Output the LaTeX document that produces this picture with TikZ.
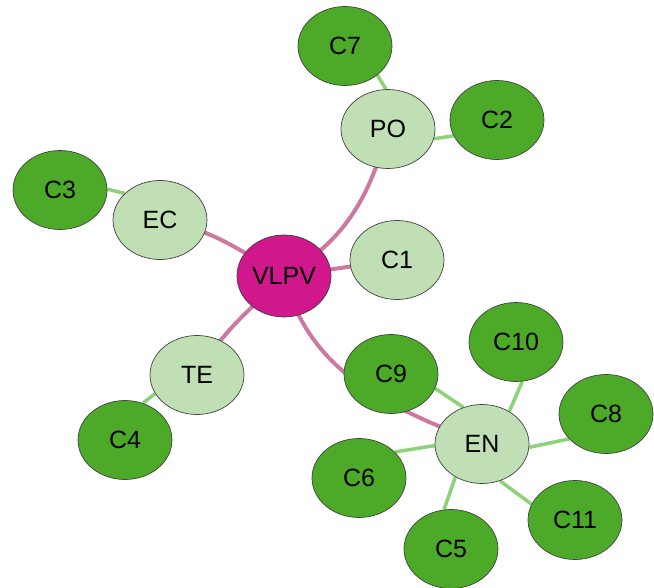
\documentclass[tikz,border=0pt]{standalone}
\usepackage{fontspec}
\setmainfont{Liberation Sans}
\usetikzlibrary{shapes.geometric,backgrounds}
\definecolor{dkgreen}{HTML}{4CAA28}
\definecolor{ltgreen}{HTML}{C0DFB4}
\definecolor{magen}{HTML}{D0188C}
\definecolor{pinkedge}{HTML}{CD78A0}
\definecolor{greenedge}{HTML}{8CD278}
\tikzset{
  base/.style={ellipse, draw=black!75, line width=0.7pt, inner sep=0pt,
    minimum width=94pt, minimum height=79pt,
    font=\fontsize{25}{30}\selectfont},
  leaf/.style={base, fill=dkgreen},
  mid/.style={base, fill=ltgreen},
  hub/.style={base, fill=magen, minimum height=82pt},
  pedge/.style={draw=pinkedge, line width=4pt},
  gedge/.style={draw=greenedge, line width=3.5pt}
}
\begin{document}
\begin{tikzpicture}[x=1pt,y=1pt]
\useasboundingbox (0,0) rectangle (654,-588);
\node[hub] (VLPV) at (284,-276) {VLPV};
\node[mid] (PO) at (388,-129) {PO};
\node[mid] (EC) at (160,-220) {EC};
\node[mid] (C1) at (397,-260) {C1};
\node[mid] (TE) at (197,-375) {TE};
\node[mid] (EN) at (482,-444) {EN};
\node[leaf] (C7) at (345,-46) {C7};
\node[leaf] (C2) at (497,-120) {C2};
\node[leaf] (C3) at (60,-190) {C3};
\node[leaf] (C4) at (125,-440) {C4};
\node[leaf] (C9) at (391,-374) {C9};
\node[leaf] (C10) at (516,-342) {C10};
\node[leaf] (C8) at (606,-414) {C8};
\node[leaf] (C6) at (359,-478) {C6};
\node[leaf] (C11) at (575,-520) {C11};
\node[leaf] (C5) at (451,-549) {C5};
\begin{scope}[on background layer]
\draw[pedge] (VLPV.center) to[out=30,in=-105] (PO.center);
\draw[pedge] (EC.center) to[out=-10,in=150] (VLPV.center);
\draw[pedge] (VLPV.center) -- (C1.center);
\draw[pedge] (VLPV.center) to[out=225,in=60] (TE.center);
\draw[pedge] (VLPV.center) to[out=-75,in=158] (EN.center);
\draw[gedge] (C7.-42) -- (PO.93);
\draw[gedge] (PO.-12) -- (C2.200);
\draw[gedge] (C3.1) -- (EC.143);
\draw[gedge] (TE.204) -- (C4.64);
\draw[gedge] (C9.-18) -- (EN.117);
\draw[gedge] (C10.-81) -- (EN.50);
\draw[gedge] (C8.214) -- (EN.-4);
\draw[gedge] (C6.36) -- (EN.182);
\draw[gedge] (C11.160) -- (EN.-64);
\draw[gedge] (C5.100) -- (EN.-129);
\end{scope}
\end{tikzpicture}
\end{document}
